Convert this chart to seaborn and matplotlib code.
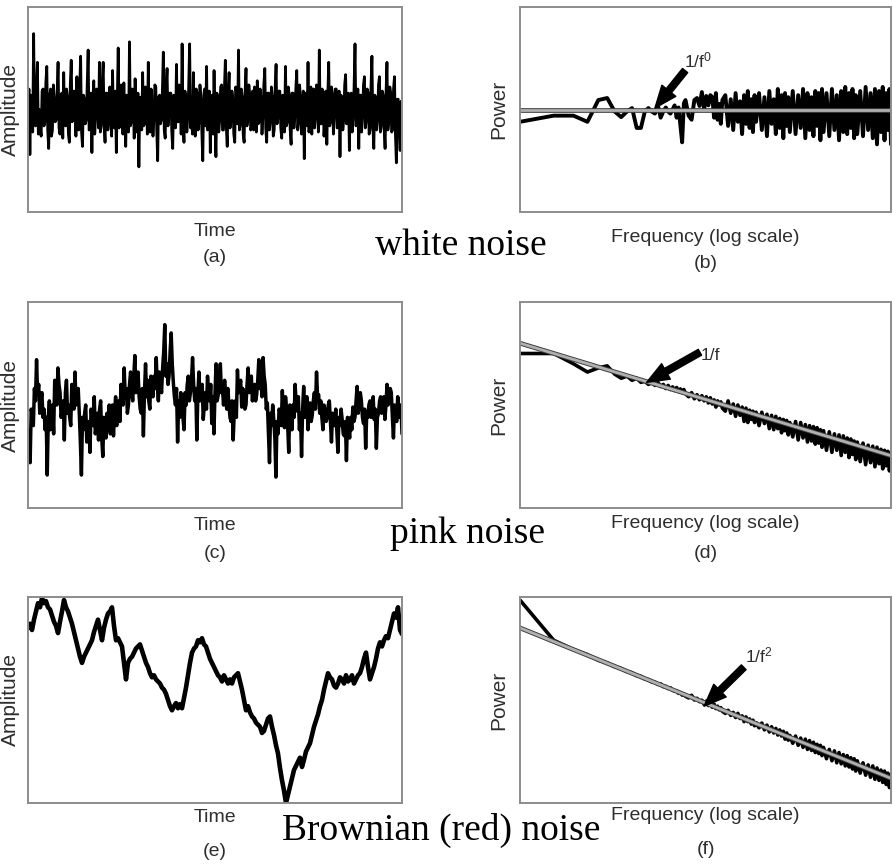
import numpy as np
import matplotlib
matplotlib.use("Agg")
import matplotlib.pyplot as plt
import matplotlib.patheffects as pe
import seaborn as sns

# ---------------- data (arbitrary units 0..100) ----------------
white_noise = [
    45, 60, 28, 57, 55, 39, 87, 43, 42, 61, 73, 38, 50, 41, 37, 59, 60, 42, 44, 63,
    71, 40, 31, 56, 60, 37, 40, 62, 55, 44, 45, 58, 73, 41, 38, 57, 58, 36, 68, 43,
    42, 60, 56, 38, 34, 62, 74, 44, 46, 59, 58, 37, 66, 42, 40, 61, 76, 39, 32, 57,
    55, 43, 45, 62, 79, 40, 41, 58, 29, 55, 64, 38, 47, 60, 57, 41, 73, 39, 42, 63,
    73, 43, 34, 58, 58, 40, 44, 61, 54, 37, 69, 42, 41, 59, 29, 56, 80, 41, 45, 62,
    57, 38, 63, 44, 32, 57, 50, 39, 83, 42, 44, 60, 58, 36, 65, 43, 39, 58, 22, 55,
    56, 40, 68, 42, 43, 61, 55, 38, 73, 41, 39, 60, 52, 37, 46, 62, 61, 40, 25, 56,
    57, 43, 45, 59, 78, 40, 36, 61, 70, 42, 48, 58, 58, 39, 31, 57, 54, 41, 72, 44,
    44, 62, 60, 38, 82, 43, 34, 59, 56, 39, 46, 61, 82, 41, 50, 38, 68, 44, 37, 60,
    58, 40, 44, 62, 55, 39, 25, 57, 60, 42, 71, 40, 42, 59, 29, 56, 57, 38, 69, 43,
    27, 58, 56, 39, 45, 61, 62, 40, 40, 60, 74, 42, 32, 57, 68, 41, 45, 59, 55, 38,
    34, 61, 58, 43, 79, 40, 43, 60, 56, 38, 34, 58, 70, 42, 46, 62, 57, 40, 42, 59,
    40, 61, 58, 39, 64, 43, 44, 60, 55, 38, 47, 62, 70, 41, 34, 58, 58, 40, 45, 61,
    56, 37, 40, 60, 72, 43, 46, 59, 59, 41, 36, 57, 55, 39, 71, 42, 44, 61, 57, 40,
    33, 58, 58, 41, 47, 60, 69, 40, 44, 62, 56, 38, 48, 59, 26, 55, 58, 42, 73, 39,
    45, 61, 38, 58, 60, 41, 47, 62, 56, 39, 79, 43, 43, 60, 58, 37, 46, 59, 33, 56,
    73, 42, 44, 61, 57, 38, 48, 60, 60, 41, 42, 59, 27, 57, 56, 40, 45, 62, 67, 43,
    48, 58, 30, 56, 58, 39, 46, 61, 82, 42, 44, 60, 31, 57, 57, 39, 47, 62, 66, 41,
    45, 60, 58, 38, 40, 61, 76, 42, 31, 57, 56, 40, 45, 62, 66, 39, 42, 59, 57, 41,
    31, 58, 73, 40, 45, 61, 58, 39, 40, 60, 66, 38, 24, 55, 55, 41, 30, 54, 48,
]

pink_noise = [
    38, 30, 22, 48, 45, 40, 58, 52, 72, 55, 60, 46, 52, 56, 44, 48, 38, 44, 16, 44,
    52, 38, 44, 50, 36, 62, 55, 50, 68, 60, 56, 44, 48, 52, 33, 56, 62, 46, 50, 44,
    40, 60, 55, 48, 66, 50, 52, 58, 46, 32, 16, 44, 38, 46, 50, 32, 36, 42, 27, 48,
    44, 40, 54, 36, 40, 46, 33, 48, 52, 34, 25, 44, 40, 34, 46, 38, 50, 36, 42, 50,
    35, 46, 54, 40, 47, 52, 42, 60, 56, 50, 68, 54, 58, 46, 50, 60, 66, 56, 52, 64,
    74, 56, 60, 66, 54, 48, 46, 58, 35, 56, 70, 54, 62, 52, 48, 64, 58, 54, 64, 58,
    73, 60, 52, 66, 60, 56, 68, 76, 89, 64, 70, 60, 64, 76, 85, 70, 61, 54, 50, 58,
    32, 52, 44, 56, 52, 44, 38, 56, 50, 60, 64, 52, 56, 62, 73, 60, 52, 58, 33, 56,
    66, 52, 55, 60, 43, 50, 56, 48, 64, 56, 52, 60, 41, 54, 36, 56, 70, 52, 55, 62,
    70, 56, 58, 50, 62, 54, 48, 58, 51, 44, 42, 52, 33, 46, 52, 44, 67, 56, 58, 62,
    49, 58, 56, 48, 50, 60, 68, 56, 58, 64, 52, 58, 60, 52, 55, 62, 72, 58, 62, 54,
    73, 64, 60, 48, 51, 36, 22, 46, 40, 50, 43, 34, 15, 42, 36, 48, 46, 40, 57, 46,
    39, 54, 48, 40, 27, 50, 44, 38, 50, 44, 60, 50, 47, 54, 38, 46, 25, 48, 59, 44,
    48, 54, 38, 48, 51, 42, 45, 52, 56, 48, 66, 54, 55, 46, 52, 44, 38, 50, 47, 42,
    44, 50, 52, 42, 32, 46, 45, 40, 48, 38, 27, 44, 40, 48, 43, 36, 35, 42, 23, 44,
    39, 34, 44, 38, 49, 42, 44, 52, 59, 46, 50, 56, 52, 44, 41, 48, 29, 46, 44, 50,
    52, 44, 47, 54, 43, 48, 29, 44, 46, 52, 54, 46, 49, 54, 43, 50, 60, 50, 52, 58,
    56, 44, 34, 50, 48, 42, 54, 48, 44, 50, 36,
]

brown_noise = [
    85, 87, 84, 89, 93, 97, 95, 99.5, 97, 98, 95, 94, 91, 88, 86, 82.5, 88, 93, 98.5, 95,
    93, 90, 87, 83, 79, 75, 71, 68, 71, 73, 75, 77, 79, 83, 86, 89, 84, 79, 85, 89,
    92, 93, 95, 86, 79, 80, 78, 76, 68, 60, 68, 70, 71, 73, 75, 76, 77, 74, 71, 68,
    66, 63, 61, 62, 60, 59, 58, 56, 55, 53, 50, 47, 45, 47, 48.5, 46, 48, 46, 51, 56,
    62, 68, 73, 75, 76, 79, 78, 80, 77, 76, 73, 70, 68, 66, 64, 62, 61, 59, 62, 60,
    58, 60, 58, 61, 62, 63, 59, 55, 50, 45, 47, 44, 42, 41, 39, 38, 37, 34, 35, 38,
    41, 42, 37, 33, 28, 24, 17, 11, 6, 0, 4, 8, 12, 16, 18, 20, 22, 17.5, 21, 25,
    27, 29, 33, 37, 40, 43, 47, 50, 55, 59, 63, 61, 60, 57, 56, 58, 61, 60, 58, 62,
    59, 60, 62, 58, 60, 62, 63, 66, 70, 73, 66, 60, 63, 66, 70, 75, 78, 76, 79, 81,
    80, 84, 88, 92, 90, 95, 84, 82,
]

# frequency bins of the spectra (log axis)
freq = np.concatenate([
    np.arange(1, 31), np.arange(32, 65, 2), np.arange(68, 129, 4),
    np.arange(136, 257, 8), np.arange(272, 513, 16), np.arange(544, 1025, 32),
    np.arange(1088, 2049, 64),
])

white_power = [
    44, 47, 47, 44, 54.6, 55.6, 49, 46.3, 49, 50.7, 41, 41, 49, 50.7, 49,
    48, 52, 46, 49, 51, 49, 48, 50, 52, 46, 51, 42.4, 34, 53, 54.6,
    47, 45, 54.6, 55.6, 51.7, 58.5, 50, 56.6, 52, 57, 56, 46, 58, 45, 52.7, 43, 54.6,
    57, 42, 55, 40, 58, 44, 54, 38, 57, 43, 59, 41, 55, 39, 57, 44,
    58, 40, 56, 37, 59, 43, 55, 38, 60, 41, 57, 36, 58, 42, 56, 39,
    59, 38, 57, 41, 60, 36, 58, 40, 56, 37, 59, 42, 58, 35, 60, 39,
    58, 37, 60, 40, 57, 35, 59, 39, 61, 38, 58, 41, 60, 36, 57, 38,
    59, 37, 61, 40, 58, 36, 60, 33, 59, 39, 61, 35, 58, 40, 60, 33,
]

pink_power = [
    75, 75, 70, 66, 68, 69, 65, 63, 64, 62, 63, 61, 61.5, 60, 61,
    59.5, 61, 59, 60, 58, 59.5, 57.5, 58.8, 57, 58.5, 56.5, 57.8, 56, 57.5, 55.5,
    54, 56, 53, 55, 52.5, 54.5, 52, 54, 51, 53.5, 50.5, 52.5, 49, 52, 50, 51.5, 48.5,
    47, 52, 46, 50.5, 44.5, 50, 45, 49, 42, 48.5, 41.5, 47.5, 43, 47, 41.5, 46.5,
    40, 46.5, 41, 45.5, 38.5, 45, 38, 44.5, 38.5, 43.5, 36.5, 43, 37.5, 42.5, 35.5, 41.5,
    34.5, 42, 33, 41.5, 34, 40.5, 32, 40, 32.5, 39.5, 31, 39, 31.5, 38, 29.5, 37.5,
    28, 37, 27, 36, 28, 35.5, 25.5, 35, 27, 34, 24.5, 33.5, 26, 32.5, 23.5, 32,
    22.5, 31.5, 21, 30.5, 22, 30, 20, 29.5, 21.5, 28.5, 19, 28, 20.5, 27.5, 18, 26.5,
]

brown_power = [
    98.5, 79, 74.5, 72, 69.3, 68, 66.2, 65.3, 63.8, 63.2, 61.8, 61.5, 60.2, 59.9, 58.8,
    58.6, 57.6, 57.8, 56.5, 56.6, 55.6, 55.9, 54.8, 54.3, 54.5, 53.2, 53.6, 52.4, 52.9, 51.8,
    51, 52.3, 50, 50.8, 49.2, 49.9, 47.8, 49.5, 47.3, 48.6, 46.5, 48, 45.8, 47, 45.2, 46.3, 44.5,
    43.5, 45, 42.5, 44, 41.5, 43.5, 41, 42.3, 39.5, 41.8, 39.5, 40.8, 38.3, 40.2, 37.5, 39,
    36.5, 38.8, 35.5, 37.8, 34.5, 37, 34, 36.2, 33, 35.5, 32.5, 34.8, 31, 34, 30.5, 32.8,
    29, 32.5, 28, 31.5, 27, 31, 26, 30.3, 25.5, 29.5, 24.5, 28.5, 24, 28, 23, 27,
    21.5, 26, 20.5, 25.3, 19.5, 24.5, 19, 23.5, 18, 23, 17.5, 22, 16.5, 21.5, 15.5, 20.5,
    14.5, 19.5, 13.5, 18.5, 12.5, 18, 11.5, 17, 11, 16, 10, 15.5, 9, 14.5, 7.5, 13.5,
]

fit_freq = [1, 2048]
white_fit = [50, 50]
pink_fit = [80, 25.4]
brown_fit = [85, 12]

fit_labels = [r"1/f$^{0}$", "1/f", r"1/f$^{2}$"]
arrow_tips = [(16, 50.7), (13.5, 61), (44, 47)]
noise_names = ["white noise", "pink noise", "Brownian (red) noise"]
panel_letters = ["(a)", "(b)", "(c)", "(d)", "(e)", "(f)"]

# ---------------- style ----------------
sns.set_style("white")
plt.rcParams["font.family"] = ["Liberation Sans", "DejaVu Sans"]
plt.rcParams["mathtext.fontset"] = "custom"
plt.rcParams["mathtext.rm"] = "Liberation Sans"
plt.rcParams["mathtext.it"] = "Liberation Sans"

W, H = 893, 865
fig = plt.figure(figsize=(W / 100, H / 100), dpi=100)

def rect(x0, y0, x1, y1):
    return [x0 / W, 1 - y1 / H, (x1 - x0) / W, (y1 - y0) / H]

rows_y = [(7, 212), (302, 508), (597, 803)]
left_x = (28, 402)
right_x = (520, 891)

label_col = "#2e2e2e"
spine_col = "#8c8c8c"

# label offsets per panel: (xlabel top offset px, paren centre offset px)
label_off = [(11.5, 45), (17.5, 51), (8.5, 45), (6.5, 46), (6.5, 48), (4.5, 46)]

series = [white_noise, pink_noise, brown_noise]
powers = [white_power, pink_power, brown_power]
fits = [white_fit, pink_fit, brown_fit]
line_w = [2.0, 2.5, 3.3]
spec_w = [2.8, 2.6, 2.6]
text_pos = [(0.443, 0.737), (0.487, 0.741), (0.606, 0.717)]
tail_pos = [(0.445, 0.69), (0.485, 0.756), (0.603, 0.659)]
name_pos = [(461, 255), (467, 543), (441, 840)]

def style_axes(ax):
    ax.set_xticks([])
    ax.set_yticks([])
    ax.set_xticks([], minor=True)
    ax.set_yticks([], minor=True)
    ax.tick_params(which="both", length=0)
    for s in ax.spines.values():
        s.set_visible(True)
        s.set_color(spine_col)
        s.set_linewidth(1.4)

for r in range(3):
    y0, y1 = rows_y[r]
    h_px = y1 - y0
    # ---- time series ----
    ax = fig.add_axes(rect(left_x[0], y0, left_x[1], y1))
    vals = np.asarray(series[r], dtype=float)
    t = np.arange(len(vals))
    sns.lineplot(x=t, y=vals, ax=ax, color="black", linewidth=line_w[r],
                 estimator=None, sort=False)
    ax.set_xlim(0, len(vals) - 1)
    ax.set_ylim(0, 100)
    style_axes(ax)
    ax.set_ylabel("Amplitude", fontsize=15, color=label_col, va="center")
    ax.yaxis.set_label_coords(-18 / (left_x[1] - left_x[0]), 0.5)
    k = 2 * r
    ax.set_xlabel("Time", fontsize=14, color=label_col)
    ax.xaxis.set_label_coords(0.5, -label_off[k][0] / h_px)
    ax.text(0.5, -label_off[k][1] / h_px, panel_letters[k], transform=ax.transAxes,
            ha="center", va="center", fontsize=14, color=label_col)

    # ---- spectrum ----
    ax2 = fig.add_axes(rect(right_x[0], y0, right_x[1], y1))
    sns.lineplot(x=freq, y=np.asarray(powers[r], dtype=float), ax=ax2, color="black",
                 linewidth=spec_w[r], estimator=None, sort=False)
    sns.lineplot(x=fit_freq, y=fits[r], ax=ax2, color="#b0b0b0", linewidth=2.0,
                 estimator=None, sort=False)
    ax2.lines[-1].set_path_effects([pe.Stroke(linewidth=3.4, foreground="#404040"), pe.Normal()])
    ax2.set_xscale("log")
    ax2.set_xlim(1, 2048)
    ax2.set_ylim(0, 100)
    style_axes(ax2)
    ax2.set_ylabel("Power", fontsize=15, color=label_col, va="center")
    ax2.yaxis.set_label_coords(-21 / (right_x[1] - right_x[0]), 0.5)
    k = 2 * r + 1
    ax2.set_xlabel("Frequency (log scale)", fontsize=14, color=label_col)
    ax2.xaxis.set_label_coords(0.5, -label_off[k][0] / h_px)
    ax2.text(0.5, -label_off[k][1] / h_px, panel_letters[k], transform=ax2.transAxes,
             ha="center", va="center", fontsize=14, color=label_col)

    # arrow + fit label
    ax2.annotate("", xy=arrow_tips[r], xycoords="data",
                 xytext=tail_pos[r], textcoords="axes fraction",
                 arrowprops=dict(arrowstyle="simple,head_length=1.0,head_width=0.8,tail_width=0.3",
                                 fc="black", ec="black", mutation_scale=16,
                                 shrinkA=0, shrinkB=0))
    ax2.text(text_pos[r][0], text_pos[r][1], fit_labels[r], transform=ax2.transAxes,
             ha="left", va="center", fontsize=12.5, color=label_col)

    # big serif caption
    fig.text(name_pos[r][0] / W, 1 - name_pos[r][1] / H, noise_names[r],
             ha="center", va="baseline", fontsize=27, color="black",
             family=["Liberation Serif", "DejaVu Serif"])

fig.savefig("out.png", dpi=100)
